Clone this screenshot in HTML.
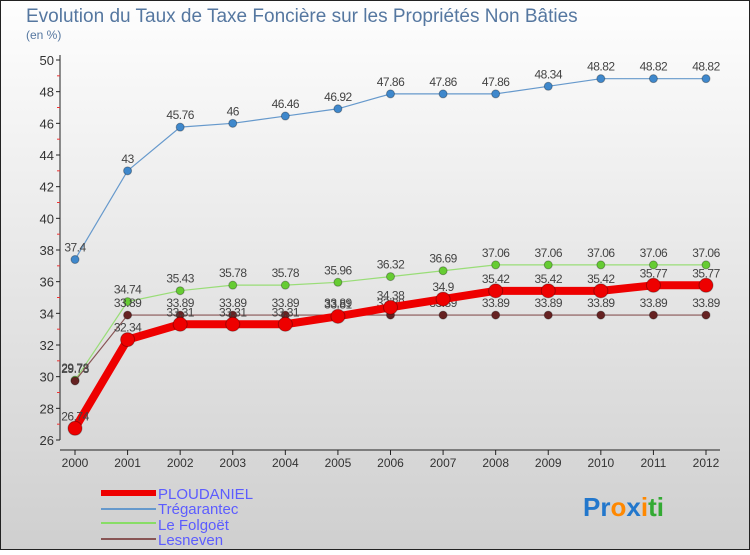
<!DOCTYPE html>
<html><head><meta charset="utf-8"><style>
body{margin:0;width:750px;height:550px;overflow:hidden;font-family:"Liberation Sans",sans-serif}
svg text{font-family:"Liberation Sans",sans-serif}
</style></head><body>
<svg id="c" width="750" height="550" xmlns="http://www.w3.org/2000/svg">
<defs><linearGradient id="bg" x1="0" y1="0" x2="0" y2="1"><stop offset="0" stop-color="#fefefe"/><stop offset="1" stop-color="#cfcfcf"/></linearGradient></defs>
<rect x="0.5" y="0.5" width="749" height="549" fill="url(#bg)" stroke="#222"/>
<text x="26" y="22" font-size="19" fill="#5577a0">Evolution du Taux de Taxe Foncière sur les Propriétés Non Bâties</text>
<text x="26" y="39" font-size="12" fill="#5577a0">(en %)</text>
<g id="axes"></g><g id="series"></g>
<g>
<rect x="101" y="490" width="55" height="6" fill="#ee0000"/>
<text x="158" y="499" font-size="15" fill="#5c5cff">PLOUDANIEL</text>
<rect x="101" y="508" width="55" height="2" fill="#6699cc"/>
<text x="158" y="514" font-size="15" fill="#5c5cff">Trégarantec</text>
<rect x="101" y="522" width="55" height="2" fill="#88dd66"/>
<text x="158" y="530" font-size="15" fill="#5c5cff">Le Folgoët</text>
<rect x="101" y="538" width="55" height="2" fill="#885555"/>
<text x="158" y="545" font-size="15" fill="#5c5cff">Lesneven</text>
</g>
<text x="583" y="516" font-size="26" font-weight="bold"><tspan fill="#2277cc">Pr</tspan><tspan fill="#ff8800">o</tspan><tspan fill="#2277cc">x</tspan><tspan fill="#ff8800">i</tspan><tspan fill="#33aa33">ti</tspan></text>
</svg>
<script>
const years=[2000,2001,2002,2003,2004,2005,2006,2007,2008,2009,2010,2011,2012];
const yTicks=[26,28,30,32,34,36,38,40,42,44,46,48,50];
const ploudaniel=[26.74,32.34,33.31,33.31,33.31,33.81,34.38,34.9,35.42,35.42,35.42,35.77,35.77];
const tregarantec=[37.4,43,45.76,46,46.46,46.92,47.86,47.86,47.86,48.34,48.82,48.82,48.82];
const lefolgoet=[29.78,34.74,35.43,35.78,35.78,35.96,36.32,36.69,37.06,37.06,37.06,37.06,37.06];
const lesneven=[29.73,33.89,33.89,33.89,33.89,33.89,33.89,33.89,33.89,33.89,33.89,33.89,33.89];
const NS="http://www.w3.org/2000/svg";
function X(i){return 75+i*(706-75)/(years.length-1);}
function Y(v){return 440-(v-26)*(380/24);}
function mk(p,t,a){const e=document.createElementNS(NS,t);for(const k in a)e.setAttribute(k,a[k]);p.appendChild(e);return e;}
const ax=document.getElementById('axes');
let l=mk(ax,'line',{x1:60,y1:55,x2:60,y2:440,stroke:'#222'});


l=mk(ax,'line',{x1:60,y1:450,x2:720,y2:450,stroke:'#222'});


yTicks.forEach((v,k)=>{
 mk(ax,'line',{x1:56,y1:Y(v),x2:60,y2:Y(v),stroke:'#222'});
 if(k<yTicks.length-1)mk(ax,'line',{x1:57,y1:Y(v+1),x2:60,y2:Y(v+1),stroke:'#e33'});
 const t=mk(ax,'text',{x:54,y:Y(v)+5,'font-size':13,fill:'#333','text-anchor':'end'});t.textContent=v;
 
 
});
years.forEach((y,i)=>{
 mk(ax,'line',{x1:X(i),y1:450,x2:X(i),y2:455,stroke:'#222'});
 const t=mk(ax,'text',{x:X(i),y:467,'font-size':12,fill:'#333','text-anchor':'middle'});t.textContent=y;
 
 
});
const sg=document.getElementById('series');
function draw(data,name,color,w,r,dot){
 const g=mk(sg,'g',{});
 
 
 mk(g,'polyline',{points:data.map((v,i)=>X(i)+','+Y(v)).join(' '),fill:'none',stroke:color,'stroke-width':w,'stroke-linejoin':'round'});
 data.forEach((v,i)=>{
  const c=mk(g,'circle',{cx:X(i),cy:Y(v),r:r,fill:dot,stroke:'rgba(0,0,0,0.3)'});
  
  
  const t=mk(g,'text',{x:X(i),y:Y(v)-8,'font-size':12,fill:'#444','text-anchor':'middle','letter-spacing':'-0.5'});t.textContent=v;
  
  
 });
}
draw(tregarantec,'tregarantec','#6699cc',1.2,4,'#3f88cc');
draw(lefolgoet,'le-folgoet','#99dd77',1.2,4,'#66cc33');
draw(lesneven,'lesneven','#885555',1.2,4,'#662222');
draw(ploudaniel,'ploudaniel','#ee0000',8,7,'#ee0000');
</script>
</body></html>
